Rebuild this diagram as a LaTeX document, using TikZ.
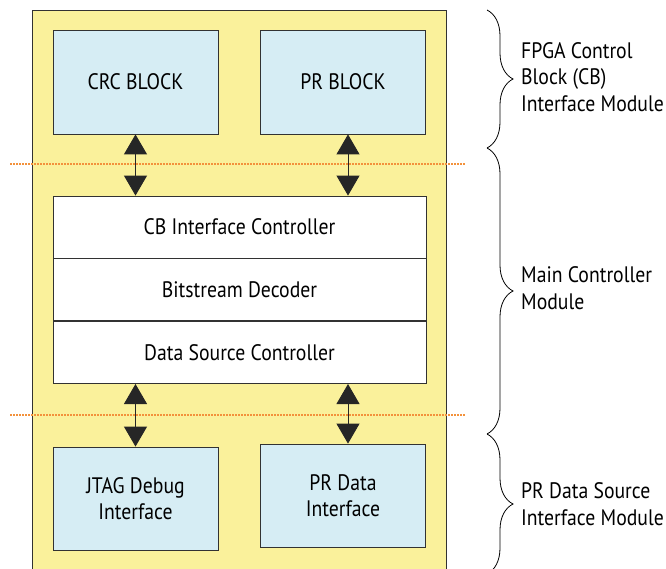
\documentclass[tikz,border=0pt]{standalone}
\usepackage{fontspec}
\setmainfont{PT Sans}[FakeStretch=0.88]
\usetikzlibrary{arrows.meta,positioning,decorations.pathreplacing}
\definecolor{cbyellow}{RGB}{250,241,155}
\definecolor{cbblue}{RGB}{214,237,244}
\definecolor{cborange}{RGB}{243,146,60}
\definecolor{cbline}{RGB}{50,50,50}
\begin{document}
\begin{tikzpicture}[x=1pt, y=-1pt,
    font=\fontsize{22.4}{26.5}\selectfont,
    block_style/.style={draw=cbline, fill=cbblue, line width=0.8pt, minimum width=165pt, minimum height=104pt, inner sep=0pt, align=center},
    row_style/.style={draw=cbline, fill=white, line width=0.8pt, minimum width=373pt, minimum height=62pt, inner sep=0pt},
    link_style/.style={draw=black!85, line width=0.9pt, {Triangle[width=23pt,length=20pt]}-{Triangle[width=23pt,length=20pt]}},
    sep_style/.style={draw=cborange, line width=1.3pt, dash pattern=on 1.5pt off 1.5pt},
    brace_style/.style={decorate, decoration={brace, amplitude=26pt}, line width=0.8pt},
    label_style/.style={anchor=west, align=left, inner sep=0pt}
]
\useasboundingbox (0,0) rectangle (666,569);
% Background module
\filldraw[fill=cbyellow, draw=cbline, line width=0.8pt] (32,10) rectangle (446,590);
% CB interface blocks
\node[block_style] (crc) at (135.5,82) {CRC BLOCK};
\node[block_style] (prb) at (343,82) {PR BLOCK};
% Main controller
\node[row_style] (cbic) at (239.5,227) {CB Interface Controller};
\node[row_style, below=0pt of cbic] (bsd) {Bitstream Decoder};
\node[row_style, below=0pt of bsd] (dsc) {Data Source Controller};
% Data source blocks
\node[block_style, minimum height=103pt] (jtag) at (135.5,498.5) {JTAG Debug\\Interface};
\node[block_style, minimum height=103pt] (prd) at (343,495.5) {PR Data\\Interface};
% Module boundaries
\draw[sep_style] (10,164) -- (465,164);
\draw[sep_style] (10,415) -- (465,415);
% Links
\draw[link_style] (crc.south) -- (crc.south |- cbic.north);
\draw[link_style] ([xshift=5pt]prb.south) -- ([xshift=5pt]prb.south |- cbic.north);
\draw[link_style] (jtag.north |- dsc.south) -- (jtag.north);
\draw[link_style] ([xshift=5pt]prd.north |- dsc.south) -- ([xshift=5pt]prd.north);
% Braces and module names
\draw[brace_style] (487,10) -- (487,148);
\draw[brace_style] (487,148) -- (487,434);
\draw[brace_style] (487,434) -- (487,574);
\node[label_style] (cbmod) at (521,77) {FPGA Control\\Block (CB)\\Interface Module};
\node[label_style] (mainmod) at (521,288) {Main Controller\\Module};
\node[label_style] (prmod) at (521,504) {PR Data Source\\Interface Module};
\end{tikzpicture}
\end{document}
